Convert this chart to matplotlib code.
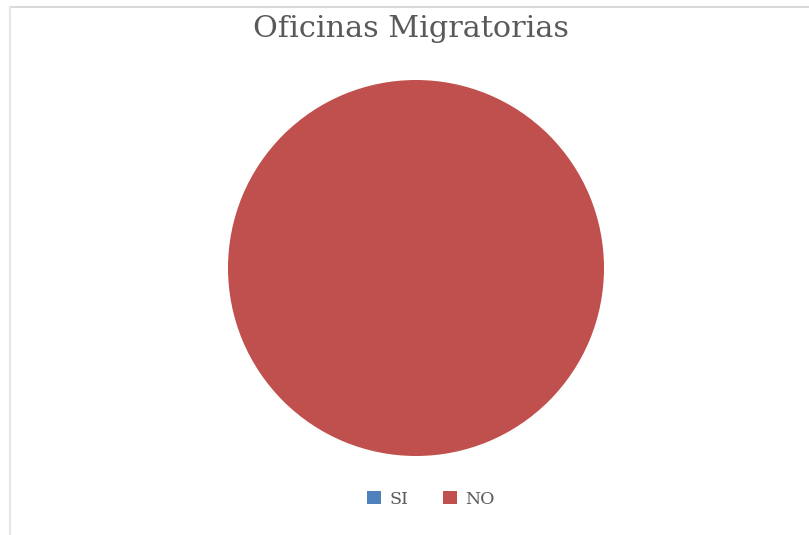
import matplotlib.pyplot as plt
from matplotlib.lines import Line2D
from matplotlib.patches import Patch

# datos
categorias = ['SI', 'NO']
valores = [0, 100]
colores = ['#4F81BD', '#C0504D']
titulo = 'Oficinas Migratorias'

W, H = 809, 535
fig = plt.figure(figsize=(W / 100, H / 100), dpi=100)

# marco gris arriba e izquierda
fig.add_artist(Line2D([10 / W, 1], [1 - 7 / H, 1 - 7 / H], color='#d9d9d9', lw=1.5))
fig.add_artist(Line2D([10 / W, 10 / W], [0, 1 - 7 / H], color='#e6e6e6', lw=1.5))

# pie
cx, cy, r = 416, 268, 188
ax = fig.add_axes([(cx - r) / W, (H - cy - r) / H, 2 * r / W, 2 * r / H])
ax.pie(valores, colors=colores, startangle=90, counterclock=False)
ax.set_xlim(-1, 1)
ax.set_ylim(-1, 1)
ax.set_aspect('equal')

fig.text(411 / W, 1 - 29 / H, titulo, ha='center', va='center',
         fontsize=21.8, color='#595959', family='DejaVu Serif')

handles = [Patch(facecolor=c, edgecolor='none') for c in colores]
fig.legend(handles, categorias, loc='center', bbox_to_anchor=(431 / W, 1 - 499 / H),
           ncol=2, frameon=False, handlelength=0.8, handleheight=0.8,
           columnspacing=2.0, handletextpad=0.5,
           prop={'family': 'DejaVu Serif', 'size': 12.5}, labelcolor='#595959')

fig.savefig('out.png', dpi=100)
